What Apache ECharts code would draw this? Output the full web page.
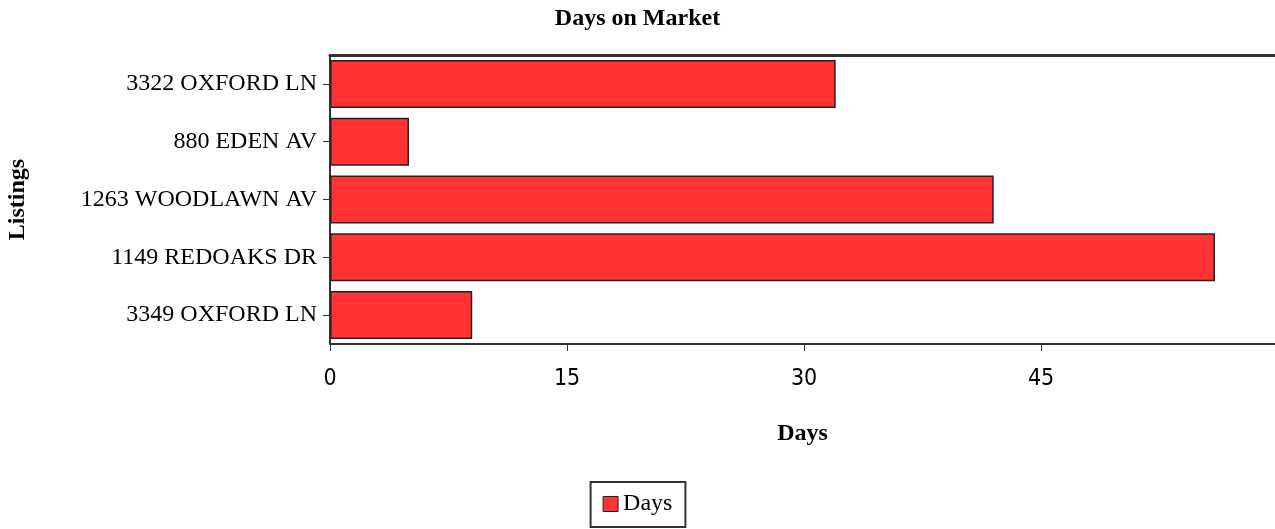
<!DOCTYPE html>
<html>
<head>
<meta charset="utf-8">
<script src="https://cdn.jsdelivr.net/npm/echarts@6/dist/echarts.min.js"></script>
<style>
html,body{margin:0;padding:0;background:#fff;}
#chart{width:1275px;height:529px;}
</style>
</head>
<body>
<div id="chart"></div>
<script>
const titleText = 'Days on Market';
const categories = ['3322 OXFORD LN', '880 EDEN AV', '1263 WOODLAWN AV', '1149 REDOAKS DR', '3349 OXFORD LN'];
const daysValues = [32, 5, 42, 56, 9];
const seriesName = 'Days';
const xAxisName = 'Days';
const yAxisName = 'Listings';
const xMin = 0, xMax = 59.8, xInterval = 15;

const serif = '"Liberation Serif", "Times New Roman", serif';
const narrow = '"Liberation Sans Narrow", "DejaVu Sans Condensed", sans-serif';

const chart = echarts.init(document.getElementById('chart'), null, {renderer: 'canvas'});
chart.setOption({
  animation: false,
  backgroundColor: '#ffffff',
  title: {
    text: titleText,
    left: 'center',
    top: 2,
    textStyle: {fontFamily: serif, fontSize: 24, fontWeight: 'bold', color: '#000'}
  },
  legend: {
    data: [seriesName],
    left: 'center',
    top: 482,
    icon: 'rect',
    itemWidth: 15,
    itemHeight: 15,
    itemGap: 6,
    padding: [10, 13, 11, 12],
    borderColor: '#333',
    borderWidth: 2,
    textStyle: {fontFamily: serif, fontSize: 24, color: '#000'},
    itemStyle: {borderColor: '#222', borderWidth: 1}
  },
  grid: {left: 330, right: 0, top: 55, bottom: 185, containLabel: false, outerBoundsMode: 'none'},
  xAxis: [{
    type: 'value',
    min: xMin,
    max: xMax,
    interval: xInterval,
    position: 'bottom',
    name: xAxisName,
    nameLocation: 'middle',
    nameGap: 78,
    nameTextStyle: {fontFamily: serif, fontSize: 24, fontWeight: 'bold', color: '#000'},
    axisLine: {show: true, lineStyle: {color: '#333', width: 2}},
    axisTick: {show: true, length: 7, lineStyle: {color: '#333', width: 1}},
    axisLabel: {
      margin: 24,
      fontFamily: narrow,
      fontSize: 23,
      color: '#000',
      showMaxLabel: false,
      formatter: function (v) { return (v % xInterval === 0) ? String(v) : ''; }
    },
    splitLine: {show: false}
  }, {
    type: 'value',
    min: xMin,
    max: xMax,
    position: 'top',
    axisLine: {show: true, lineStyle: {color: '#333', width: 3}},
    axisTick: {show: false},
    axisLabel: {show: false},
    splitLine: {show: false}
  }],
  yAxis: {
    type: 'category',
    data: categories,
    inverse: true,
    name: yAxisName,
    nameLocation: 'middle',
    nameGap: 300,
    nameRotate: 90,
    nameTextStyle: {fontFamily: serif, fontSize: 24, fontWeight: 'bold', color: '#000'},
    axisLine: {show: true, lineStyle: {color: '#333', width: 2}},
    axisTick: {show: true, alignWithLabel: true, length: 7, lineStyle: {color: '#333', width: 1}},
    axisLabel: {margin: 13, fontFamily: serif, fontSize: 24, color: '#000'},
    splitLine: {show: false}
  },
  series: [{
    name: seriesName,
    type: 'bar',
    data: daysValues,
    xAxisIndex: 0,
    barCategoryGap: '17%',
    itemStyle: {color: '#FF3333', borderColor: '#222', borderWidth: 1.5}
  }]
});
</script>
</body>
</html>
